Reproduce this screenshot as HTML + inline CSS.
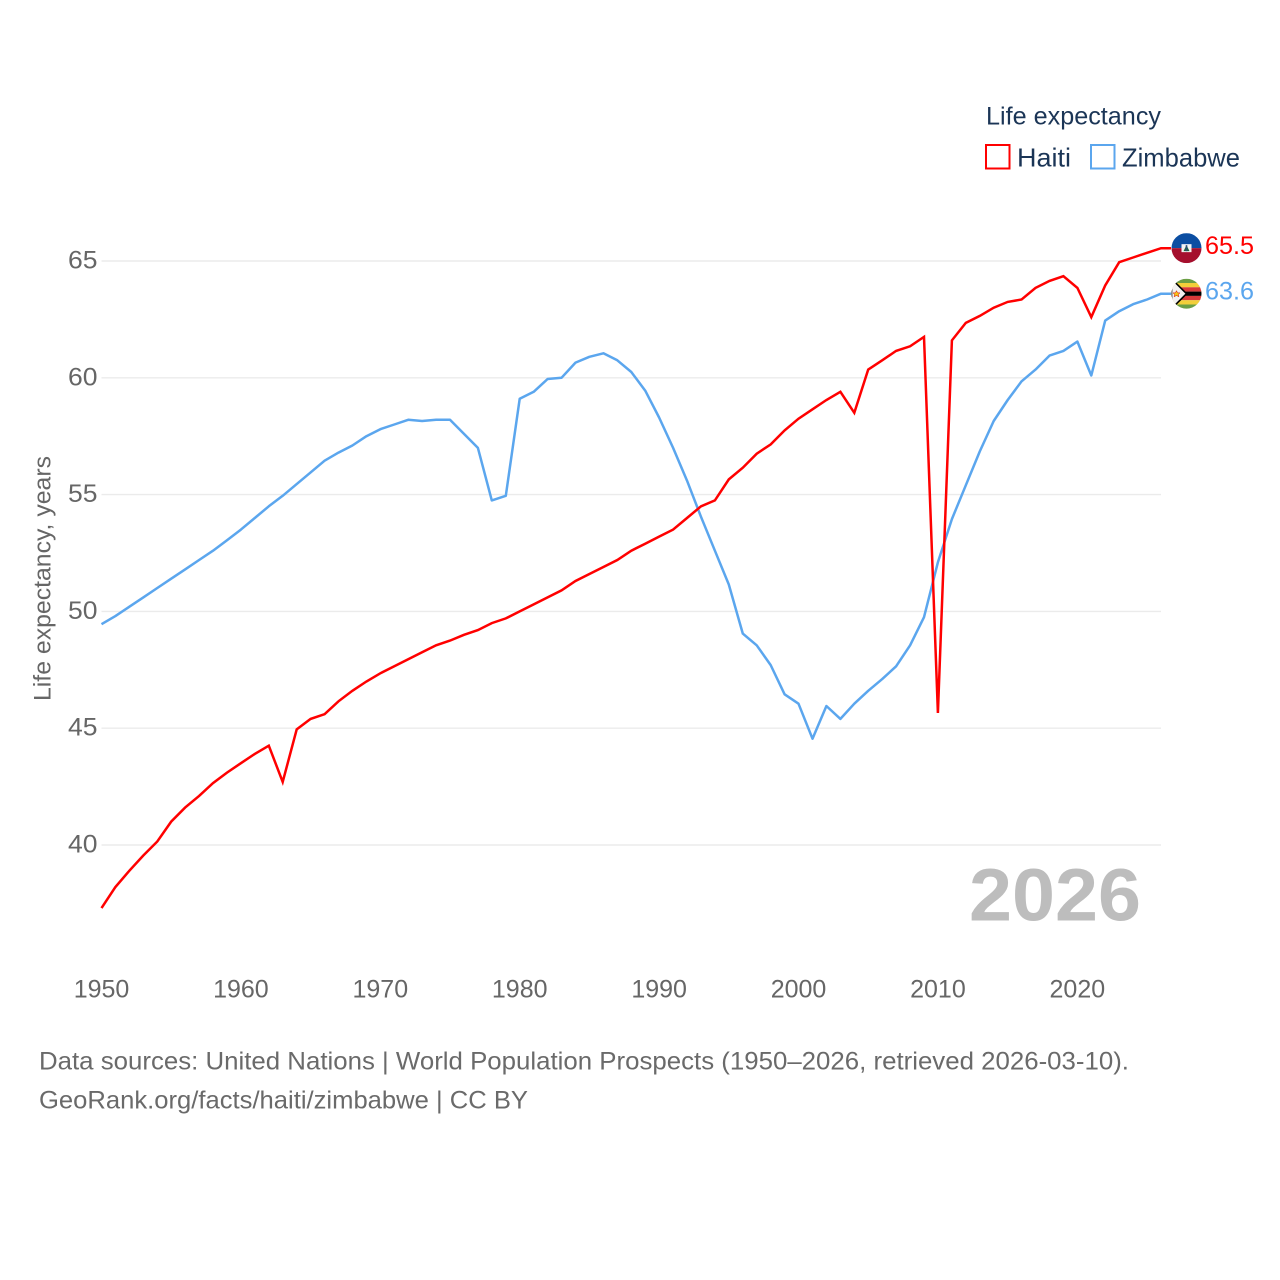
<!DOCTYPE html>
<html lang="en">
<head>
<meta charset="utf-8">
<title>Life expectancy: Haiti and Zimbabwe</title>
<style>
html,body{margin:0;padding:0;background:#fff;}
svg{display:block;font-family:"Liberation Sans",sans-serif;}
</style>
</head>
<body>
<svg id="chart" xmlns="http://www.w3.org/2000/svg" width="1280" height="1280" viewBox="0 0 1280 1280">
  <g id="grid"></g>
  <g id="y-ticks"></g>
  <g id="x-ticks"></g>
  <text transform="translate(50.5 701) rotate(-90)" font-size="24" fill="#666" textLength="245" lengthAdjust="spacingAndGlyphs">Life expectancy, years</text>
  <text x="969" y="920.5" font-size="74" font-weight="700" fill="#bdbdbd" textLength="172" lengthAdjust="spacingAndGlyphs">2026</text>

  <g>
    <text x="986" y="124.5" font-size="25" fill="#1b3556" textLength="175" lengthAdjust="spacingAndGlyphs">Life expectancy</text>
    <g>
      <rect x="986" y="145" width="23.5" height="23.5" fill="none" stroke="#ff0000" stroke-width="2"/>
      <text x="1017" y="166.5" font-size="26" fill="#1b3556" textLength="54" lengthAdjust="spacingAndGlyphs">Haiti</text>
    </g>
    <g>
      <rect x="1091" y="145" width="23.5" height="23.5" fill="none" stroke="#5ba6ee" stroke-width="2"/>
      <text x="1122" y="166.5" font-size="26" fill="#1b3556" textLength="118" lengthAdjust="spacingAndGlyphs">Zimbabwe</text>
    </g>
  </g>

  <path id="line-zimbabwe" fill="none" stroke="#5ba6ee" stroke-width="2.5" stroke-linejoin="round"/>
  <path id="line-haiti" fill="none" stroke="#ff0000" stroke-width="2.5" stroke-linejoin="miter"/>

  <defs>
    <clipPath id="flag-clip"><circle cx="0" cy="0" r="15"/></clipPath>
  </defs>

  <g id="flag-haiti" clip-path="url(#flag-clip)">
    <rect x="-15" y="-15" width="30" height="15" fill="#0b4ea2"/>
    <rect x="-15" y="0" width="30" height="15" fill="#a50f2d"/>
    <rect x="-5" y="-4" width="10" height="8" fill="#f4f4f4"/>
    <path d="M-3 3 L0 -3 L3 3 Z" fill="#1f6b3a"/>
    <rect x="-0.8" y="-3" width="1.6" height="6" fill="#2a4d7a"/>
  </g>
  <g id="flag-zimbabwe" clip-path="url(#flag-clip)">
    <rect x="-15" y="-15" width="30" height="30" fill="#e9e9e9"/>
    <rect x="-15" y="-15" width="30" height="4.3" fill="#6b9f45"/>
    <rect x="-15" y="-10.7" width="30" height="4.3" fill="#f2cf3a"/>
    <rect x="-15" y="-6.4" width="30" height="4.3" fill="#d83a3a"/>
    <rect x="-15" y="-2.1" width="30" height="4.3" fill="#000"/>
    <rect x="-15" y="2.2" width="30" height="4.3" fill="#d83a3a"/>
    <rect x="-15" y="6.5" width="30" height="4.3" fill="#f2cf3a"/>
    <rect x="-15" y="10.8" width="30" height="4.3" fill="#6b9f45"/>
    <path d="M-15 -15 L0 0 L-15 15 Z" fill="#f2f2f2" stroke="#000" stroke-width="1.6"/>
    <path d="M-10 -3 L-8.8 -0.8 L-6.5 -0.8 L-8.2 0.8 L-7.6 3 L-10 1.8 L-12.4 3 L-11.8 0.8 L-13.5 -0.8 L-11.2 -0.8 Z" fill="#f5c518" stroke="#d40000" stroke-width="0.5"/>
  </g>

  <text id="value-haiti" x="1205" font-size="25" fill="#ff0000" textLength="49" lengthAdjust="spacingAndGlyphs"></text>
  <text id="value-zimbabwe" x="1205" font-size="25" fill="#5ba6ee" textLength="49" lengthAdjust="spacingAndGlyphs"></text>

  <g>
    <text x="39" y="1069.5" font-size="25" fill="#6a6a6a" textLength="1090" lengthAdjust="spacingAndGlyphs">Data sources: United Nations | World Population Prospects (1950–2026, retrieved 2026-03-10).</text>
    <text x="39" y="1108.5" font-size="25" fill="#6a6a6a" textLength="489" lengthAdjust="spacingAndGlyphs">GeoRank.org/facts/haiti/zimbabwe | CC BY</text>
  </g>
</svg>

<script>
const startYear = 1950;
const endYear = 2026;
const yTickValues = [40, 45, 50, 55, 60, 65];
const xTickValues = [1950, 1960, 1970, 1980, 1990, 2000, 2010, 2020];
const haitiValues = [
  37.3, 38.2, 38.9, 39.55, 40.15, 41.0, 41.6, 42.1, 42.65, 43.1,
  43.5, 43.9, 44.25, 42.7, 44.95, 45.4, 45.6, 46.15, 46.6, 47.0,
  47.35, 47.65, 47.95, 48.25, 48.55, 48.75, 49.0, 49.2, 49.5, 49.7,
  50.0, 50.3, 50.6, 50.9, 51.3, 51.6, 51.9, 52.2, 52.6, 52.9,
  53.2, 53.5, 54.0, 54.5, 54.75, 55.65, 56.15, 56.75, 57.15, 57.75,
  58.25, 58.65, 59.05, 59.4, 58.5, 60.35, 60.75, 61.15, 61.35, 61.75,
  45.65, 61.6, 62.35, 62.65, 63.0, 63.25, 63.35, 63.85, 64.15, 64.35,
  63.85, 62.6, 63.95, 64.95, 65.15, 65.35, 65.55
];
const zimbabweValues = [
  49.45, 49.8, 50.2, 50.6, 51.0, 51.4, 51.8, 52.2, 52.6, 53.05,
  53.5, 54.0, 54.5, 54.95, 55.45, 55.95, 56.45, 56.8, 57.1, 57.5,
  57.8, 58.0, 58.2, 58.15, 58.2, 58.2, 57.6, 57.0, 54.75, 54.95,
  59.1, 59.4, 59.95, 60.0, 60.65, 60.9, 61.05, 60.75, 60.25, 59.45,
  58.3, 57.0, 55.6, 54.05, 52.6, 51.15, 49.05, 48.55, 47.7, 46.45,
  46.05, 44.55, 45.95, 45.4, 46.05, 46.6, 47.1, 47.65, 48.55, 49.75,
  52.1, 53.95, 55.4, 56.85, 58.15, 59.05, 59.85, 60.35, 60.95, 61.15,
  61.55, 60.1, 62.45, 62.85, 63.15, 63.35, 63.6
];
const haitiEndLabel = "65.5";
const zimbabweEndLabel = "63.6";

const NS = "http://www.w3.org/2000/svg";
const plotLeft = 101.5;
const plotRight = 1161;
function xScale(year) {
  return plotLeft + (year - startYear) * (plotRight - plotLeft) / (endYear - startYear);
}
function yScale(value) {
  return 261 + (65 - value) * 23.36;
}
function linePath(values) {
  let d = "";
  values.forEach(function (v, i) {
    d += (i ? "L" : "M") + xScale(startYear + i).toFixed(1) + " " + yScale(v).toFixed(1);
  });
  const last = values[values.length - 1];
  d += "L" + (plotRight + 10) + " " + yScale(last).toFixed(1);
  return d;
}

const grid = document.getElementById("grid");
const yTicks = document.getElementById("y-ticks");
yTickValues.forEach(function (v) {
  const gridLine = document.createElementNS(NS, "line");
  
  
  gridLine.setAttribute("x1", plotLeft);
  gridLine.setAttribute("x2", plotRight);
  gridLine.setAttribute("y1", yScale(v));
  gridLine.setAttribute("y2", yScale(v));
  gridLine.setAttribute("stroke", "#ebebeb");
  gridLine.setAttribute("stroke-width", "1.4");
  grid.appendChild(gridLine);

  const yLabel = document.createElementNS(NS, "text");
  
  
  yLabel.setAttribute("x", 68);
  yLabel.setAttribute("y", yScale(v) + 7.5);
  yLabel.setAttribute("font-size", "25");
  yLabel.setAttribute("fill", "#666");
  yLabel.setAttribute("textLength", "29.5");
  yLabel.setAttribute("lengthAdjust", "spacingAndGlyphs");
  yLabel.textContent = v;
  yTicks.appendChild(yLabel);
});

const xTicks = document.getElementById("x-ticks");
xTickValues.forEach(function (yr) {
  const xLabel = document.createElementNS(NS, "text");
  
  
  xLabel.setAttribute("x", xScale(yr));
  xLabel.setAttribute("y", 997.5);
  xLabel.setAttribute("text-anchor", "middle");
  xLabel.setAttribute("font-size", "25");
  xLabel.setAttribute("fill", "#666");
  xLabel.textContent = yr;
  xTicks.appendChild(xLabel);
});

document.getElementById("line-haiti").setAttribute("d", linePath(haitiValues));
document.getElementById("line-zimbabwe").setAttribute("d", linePath(zimbabweValues));

const haitiEndY = yScale(haitiValues[haitiValues.length - 1]);
const zimbabweEndY = yScale(zimbabweValues[zimbabweValues.length - 1]);
document.getElementById("flag-haiti").setAttribute("transform", "translate(1186.5 " + haitiEndY + ")");
document.getElementById("flag-zimbabwe").setAttribute("transform", "translate(1186.5 " + zimbabweEndY + ")");
const haitiLabel = document.getElementById("value-haiti");
haitiLabel.setAttribute("y", haitiEndY + 6);
haitiLabel.textContent = haitiEndLabel;
const zimbabweLabel = document.getElementById("value-zimbabwe");
zimbabweLabel.setAttribute("y", zimbabweEndY + 6);
zimbabweLabel.textContent = zimbabweEndLabel;
</script>
</body>
</html>
